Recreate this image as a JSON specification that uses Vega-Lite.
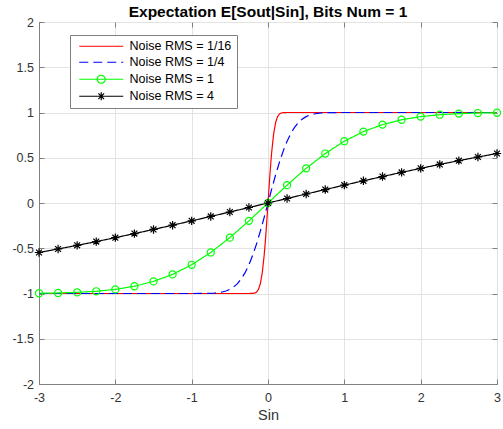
{
  "$schema": "https://vega.github.io/schema/vega-lite/v6.json",
  "width": 458,
  "height": 362,
  "autosize": {"type": "none"},
  "padding": {"left": 39, "top": 22, "right": 6, "bottom": 45},
  "background": "white",
  "config": {
    "font": "Liberation Sans",
    "view": {"stroke": "#808080", "strokeWidth": 1},
    "axis": {
      "domainColor": "#808080",
      "tickColor": "#808080",
      "gridColor": "#e3e3e3",
      "labelColor": "#333333",
      "labelFontSize": 12.5,
      "labelFont": "Liberation Sans",
      "titleFont": "Liberation Sans",
      "titleFontWeight": "normal",
      "titleColor": "#333333"
    }
  },
  "title": {
    "text": "Expectation E[Sout|Sin], Bits Num = 1",
    "fontSize": 15.5,
    "fontWeight": "bold",
    "font": "Liberation Sans",
    "color": "#000000",
    "anchor": "middle",
    "offset": -4
  },
  "data": {
    "values": [
      {"s": "Noise RMS = 1/16", "x": -3, "y": -1},
      {"s": "Noise RMS = 1/16", "x": -0.3, "y": -1},
      {"s": "Noise RMS = 1/16", "x": -0.25, "y": -0.99994},
      {"s": "Noise RMS = 1/16", "x": -0.2, "y": -0.99863},
      {"s": "Noise RMS = 1/16", "x": -0.175, "y": -0.99489},
      {"s": "Noise RMS = 1/16", "x": -0.15, "y": -0.9836},
      {"s": "Noise RMS = 1/16", "x": -0.125, "y": -0.9545},
      {"s": "Noise RMS = 1/16", "x": -0.1, "y": -0.8904},
      {"s": "Noise RMS = 1/16", "x": -0.075, "y": -0.76986},
      {"s": "Noise RMS = 1/16", "x": -0.05, "y": -0.57629},
      {"s": "Noise RMS = 1/16", "x": -0.0375, "y": -0.45149},
      {"s": "Noise RMS = 1/16", "x": -0.025, "y": -0.31084},
      {"s": "Noise RMS = 1/16", "x": -0.0125, "y": -0.15852},
      {"s": "Noise RMS = 1/16", "x": 0, "y": 0},
      {"s": "Noise RMS = 1/16", "x": 0.0125, "y": 0.15852},
      {"s": "Noise RMS = 1/16", "x": 0.025, "y": 0.31084},
      {"s": "Noise RMS = 1/16", "x": 0.0375, "y": 0.45149},
      {"s": "Noise RMS = 1/16", "x": 0.05, "y": 0.57629},
      {"s": "Noise RMS = 1/16", "x": 0.075, "y": 0.76986},
      {"s": "Noise RMS = 1/16", "x": 0.1, "y": 0.8904},
      {"s": "Noise RMS = 1/16", "x": 0.125, "y": 0.9545},
      {"s": "Noise RMS = 1/16", "x": 0.15, "y": 0.9836},
      {"s": "Noise RMS = 1/16", "x": 0.175, "y": 0.99489},
      {"s": "Noise RMS = 1/16", "x": 0.2, "y": 0.99863},
      {"s": "Noise RMS = 1/16", "x": 0.25, "y": 0.99994},
      {"s": "Noise RMS = 1/16", "x": 0.3, "y": 1},
      {"s": "Noise RMS = 1/16", "x": 3, "y": 1},

      {"s": "Noise RMS = 1/4", "x": -3, "y": -1},
      {"s": "Noise RMS = 1/4", "x": -1.2, "y": -1},
      {"s": "Noise RMS = 1/4", "x": -1.0, "y": -0.99994},
      {"s": "Noise RMS = 1/4", "x": -0.9, "y": -0.99968},
      {"s": "Noise RMS = 1/4", "x": -0.8, "y": -0.99863},
      {"s": "Noise RMS = 1/4", "x": -0.7, "y": -0.99489},
      {"s": "Noise RMS = 1/4", "x": -0.6, "y": -0.9836},
      {"s": "Noise RMS = 1/4", "x": -0.55, "y": -0.97219},
      {"s": "Noise RMS = 1/4", "x": -0.5, "y": -0.9545},
      {"s": "Noise RMS = 1/4", "x": -0.45, "y": -0.92814},
      {"s": "Noise RMS = 1/4", "x": -0.4, "y": -0.8904},
      {"s": "Noise RMS = 1/4", "x": -0.35, "y": -0.83849},
      {"s": "Noise RMS = 1/4", "x": -0.3, "y": -0.76986},
      {"s": "Noise RMS = 1/4", "x": -0.25, "y": -0.68269},
      {"s": "Noise RMS = 1/4", "x": -0.2, "y": -0.57629},
      {"s": "Noise RMS = 1/4", "x": -0.15, "y": -0.45149},
      {"s": "Noise RMS = 1/4", "x": -0.1, "y": -0.31084},
      {"s": "Noise RMS = 1/4", "x": -0.05, "y": -0.15852},
      {"s": "Noise RMS = 1/4", "x": 0, "y": 0},
      {"s": "Noise RMS = 1/4", "x": 0.05, "y": 0.15852},
      {"s": "Noise RMS = 1/4", "x": 0.1, "y": 0.31084},
      {"s": "Noise RMS = 1/4", "x": 0.15, "y": 0.45149},
      {"s": "Noise RMS = 1/4", "x": 0.2, "y": 0.57629},
      {"s": "Noise RMS = 1/4", "x": 0.25, "y": 0.68269},
      {"s": "Noise RMS = 1/4", "x": 0.3, "y": 0.76986},
      {"s": "Noise RMS = 1/4", "x": 0.35, "y": 0.83849},
      {"s": "Noise RMS = 1/4", "x": 0.4, "y": 0.8904},
      {"s": "Noise RMS = 1/4", "x": 0.45, "y": 0.92814},
      {"s": "Noise RMS = 1/4", "x": 0.5, "y": 0.9545},
      {"s": "Noise RMS = 1/4", "x": 0.55, "y": 0.97219},
      {"s": "Noise RMS = 1/4", "x": 0.6, "y": 0.9836},
      {"s": "Noise RMS = 1/4", "x": 0.7, "y": 0.99489},
      {"s": "Noise RMS = 1/4", "x": 0.8, "y": 0.99863},
      {"s": "Noise RMS = 1/4", "x": 0.9, "y": 0.99968},
      {"s": "Noise RMS = 1/4", "x": 1.0, "y": 0.99994},
      {"s": "Noise RMS = 1/4", "x": 1.2, "y": 1},
      {"s": "Noise RMS = 1/4", "x": 3, "y": 1},

      {"s": "Noise RMS = 1", "x": -3, "y": -0.9973},
      {"s": "Noise RMS = 1", "x": -2.75, "y": -0.99404},
      {"s": "Noise RMS = 1", "x": -2.5, "y": -0.98758},
      {"s": "Noise RMS = 1", "x": -2.25, "y": -0.97555},
      {"s": "Noise RMS = 1", "x": -2, "y": -0.9545},
      {"s": "Noise RMS = 1", "x": -1.75, "y": -0.91988},
      {"s": "Noise RMS = 1", "x": -1.5, "y": -0.86639},
      {"s": "Noise RMS = 1", "x": -1.25, "y": -0.7887},
      {"s": "Noise RMS = 1", "x": -1, "y": -0.68269},
      {"s": "Noise RMS = 1", "x": -0.75, "y": -0.54675},
      {"s": "Noise RMS = 1", "x": -0.5, "y": -0.38292},
      {"s": "Noise RMS = 1", "x": -0.25, "y": -0.19741},
      {"s": "Noise RMS = 1", "x": 0, "y": 0},
      {"s": "Noise RMS = 1", "x": 0.25, "y": 0.19741},
      {"s": "Noise RMS = 1", "x": 0.5, "y": 0.38292},
      {"s": "Noise RMS = 1", "x": 0.75, "y": 0.54675},
      {"s": "Noise RMS = 1", "x": 1, "y": 0.68269},
      {"s": "Noise RMS = 1", "x": 1.25, "y": 0.7887},
      {"s": "Noise RMS = 1", "x": 1.5, "y": 0.86639},
      {"s": "Noise RMS = 1", "x": 1.75, "y": 0.91988},
      {"s": "Noise RMS = 1", "x": 2, "y": 0.9545},
      {"s": "Noise RMS = 1", "x": 2.25, "y": 0.97555},
      {"s": "Noise RMS = 1", "x": 2.5, "y": 0.98758},
      {"s": "Noise RMS = 1", "x": 2.75, "y": 0.99404},
      {"s": "Noise RMS = 1", "x": 3, "y": 0.9973},

      {"s": "Noise RMS = 4", "x": -3, "y": -0.54675},
      {"s": "Noise RMS = 4", "x": -2.75, "y": -0.50822},
      {"s": "Noise RMS = 4", "x": -2.5, "y": -0.46803},
      {"s": "Noise RMS = 4", "x": -2.25, "y": -0.42622},
      {"s": "Noise RMS = 4", "x": -2, "y": -0.38292},
      {"s": "Noise RMS = 4", "x": -1.75, "y": -0.33824},
      {"s": "Noise RMS = 4", "x": -1.5, "y": -0.29234},
      {"s": "Noise RMS = 4", "x": -1.25, "y": -0.24534},
      {"s": "Noise RMS = 4", "x": -1, "y": -0.19741},
      {"s": "Noise RMS = 4", "x": -0.75, "y": -0.14874},
      {"s": "Noise RMS = 4", "x": -0.5, "y": -0.09948},
      {"s": "Noise RMS = 4", "x": -0.25, "y": -0.04985},
      {"s": "Noise RMS = 4", "x": 0, "y": 0},
      {"s": "Noise RMS = 4", "x": 0.25, "y": 0.04985},
      {"s": "Noise RMS = 4", "x": 0.5, "y": 0.09948},
      {"s": "Noise RMS = 4", "x": 0.75, "y": 0.14874},
      {"s": "Noise RMS = 4", "x": 1, "y": 0.19741},
      {"s": "Noise RMS = 4", "x": 1.25, "y": 0.24534},
      {"s": "Noise RMS = 4", "x": 1.5, "y": 0.29234},
      {"s": "Noise RMS = 4", "x": 1.75, "y": 0.33824},
      {"s": "Noise RMS = 4", "x": 2, "y": 0.38292},
      {"s": "Noise RMS = 4", "x": 2.25, "y": 0.42622},
      {"s": "Noise RMS = 4", "x": 2.5, "y": 0.46803},
      {"s": "Noise RMS = 4", "x": 2.75, "y": 0.50822},
      {"s": "Noise RMS = 4", "x": 3, "y": 0.54675}
    ]
  },
  "resolve": {"axis": {"x": "independent", "y": "independent"}},
  "layer": [
    {
      "mark": {"type": "line", "strokeWidth": 1.2, "clip": true},
      "encoding": {
        "x": {
          "field": "x", "type": "quantitative",
          "scale": {"domain": [-3, 3], "nice": false, "zero": false},
          "axis": {"values": [-3, -2, -1, 0, 1, 2, 3], "title": "Sin", "titleFontSize": 14.5, "titlePadding": 5, "tickSize": -5, "labelPadding": 12, "grid": true, "labelExpr": "datum.value", "labelFlush": false}
        },
        "y": {
          "field": "y", "type": "quantitative",
          "scale": {"domain": [-2, 2], "nice": false, "zero": false},
          "axis": {"values": [-2, -1.5, -1, -0.5, 0, 0.5, 1, 1.5, 2], "title": null, "tickSize": -5, "labelPadding": 10.5, "grid": true, "labelExpr": "datum.value", "labelFlush": false}
        },
        "color": {
          "field": "s", "type": "nominal",
          "scale": {"domain": ["Noise RMS = 1/16", "Noise RMS = 1/4", "Noise RMS = 1", "Noise RMS = 4"], "range": ["#ff0000", "#0000ff", "#00ff00", "#000000"]},
          "legend": {
            "title": null,
            "orient": "none",
            "legendX": 31,
            "legendY": 13,
            "fillColor": "white",
            "strokeColor": "#808080",
            "padding": 5,
            "symbolSize": 100,
            "symbolStrokeWidth": 1.2,
            "symbolOffset": 20,
            "labelOffset": 22,
            "labelFontSize": 12.5,
            "labelFont": "Liberation Sans",
            "labelColor": "#000000",
            "rowPadding": 3,
            "encode": {
              "symbols": {
                "update": {
                  "shape": {"signal": "datum.value === 'Noise RMS = 1' ? 'M-4.4,0H4.4M0.8,0A0.8,0.8 0 1,1 -0.8,0A0.8,0.8 0 1,1 0.8,0' : datum.value === 'Noise RMS = 4' ? 'M-4.4,0H4.4M0,-0.8V0.8M-0.57,-0.57L0.57,0.57M-0.57,0.57L0.57,-0.57' : 'M-4.4,0H4.4'"},
                  "fill": {"value": "transparent"}
                }
              }
            }
          }
        },
        "strokeDash": {
          "field": "s", "type": "nominal",
          "scale": {"domain": ["Noise RMS = 1/16", "Noise RMS = 1/4", "Noise RMS = 1", "Noise RMS = 4"], "range": [[1, 0], [9, 5], [1, 0], [1, 0]]},
          "legend": null
        }
      }
    },
    {
      "transform": [{"filter": "datum.s === 'Noise RMS = 1'"}],
      "mark": {"type": "point", "shape": "circle", "size": 50, "filled": false, "stroke": "#00ff00", "strokeWidth": 1.2, "opacity": 1},
      "encoding": {
        "x": {"field": "x", "type": "quantitative", "axis": {"orient": "top", "values": [-3, -2, -1, 0, 1, 2, 3], "labels": false, "title": null, "tickSize": -5, "grid": false, "domain": false}},
        "y": {"field": "y", "type": "quantitative", "axis": {"orient": "right", "values": [-2, -1.5, -1, -0.5, 0, 0.5, 1, 1.5, 2], "labels": false, "title": null, "tickSize": -5, "grid": false, "domain": false}}
      }
    },
    {
      "transform": [{"filter": "datum.s === 'Noise RMS = 4'"}],
      "mark": {"type": "point", "shape": "M0,-1V1M-1,0H1M-0.7,-0.7L0.7,0.7M-0.7,0.7L0.7,-0.7", "size": 70, "filled": false, "stroke": "#000000", "strokeWidth": 1.2, "opacity": 1},
      "encoding": {
        "x": {"field": "x", "type": "quantitative", "axis": null},
        "y": {"field": "y", "type": "quantitative", "axis": null}
      }
    }
  ]
}
